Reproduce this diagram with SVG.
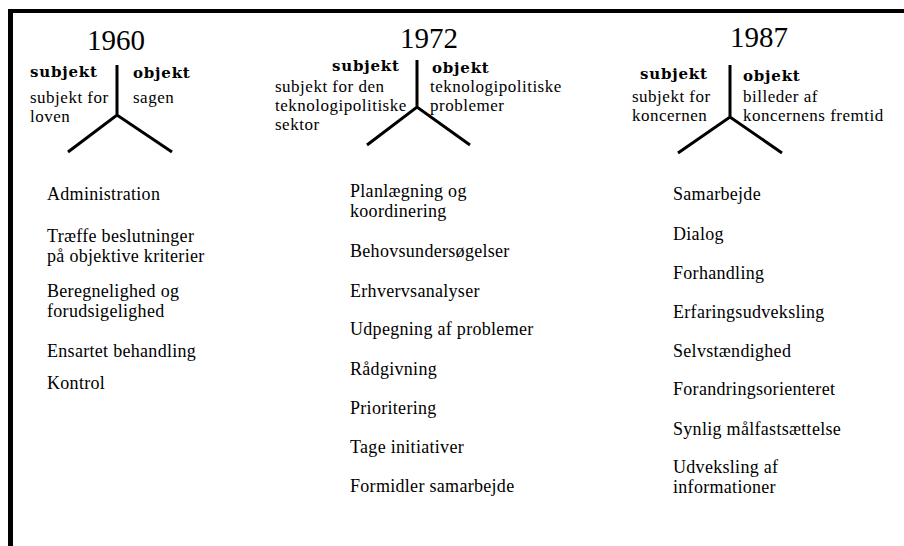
<svg xmlns="http://www.w3.org/2000/svg" width="904" height="546" viewBox="0 0 904 546">
<style>
.yr{font-family:"Liberation Serif","Times New Roman",serif;font-size:29px;fill:#000}
.hd{font-family:"DejaVu Serif",serif;font-weight:bold;font-size:15px;letter-spacing:0.8px;fill:#000}
.lb{font-family:"Liberation Serif","Times New Roman",serif;font-size:17px;letter-spacing:0.5px;fill:#000}
.it{font-family:"Liberation Serif","Times New Roman",serif;font-size:18px;letter-spacing:0.3px;fill:#000}
.y{fill:none;stroke:#000;stroke-width:3;stroke-linecap:butt}
</style>
<rect width="904" height="546" fill="#fff"/>
<g id="frame">
<rect x="8" y="9" width="896" height="4" fill="#000"/>
<rect x="8" y="9" width="5" height="537" fill="#000"/>
</g>
<g id="col1960">
<text class="yr" x="116" y="50" text-anchor="middle">1960</text>
<text class="hd" x="30" y="77">subjekt</text>
<text class="hd" x="133" y="78">objekt</text>
<text class="lb" x="30" y="103">subjekt for</text>
<text class="lb" x="30" y="122">loven</text>
<text class="lb" x="133" y="103">sagen</text>
<path class="y" d="M117,65 V115 M68,152 L117,115 L172,152"/>
<text class="it" x="47" y="200">Administration</text>
<text class="it" x="47" y="242">Træffe beslutninger</text>
<text class="it" x="47" y="262">på objektive kriterier</text>
<text class="it" x="47" y="297">Beregnelighed og</text>
<text class="it" x="47" y="317">forudsigelighed</text>
<text class="it" x="47" y="357">Ensartet behandling</text>
<text class="it" x="47" y="389">Kontrol</text>
</g>
<g id="col1972">
<text class="yr" x="429" y="48" text-anchor="middle">1972</text>
<text class="hd" x="332" y="71">subjekt</text>
<text class="hd" x="432" y="73">objekt</text>
<text class="lb" x="275" y="92">subjekt for den</text>
<text class="lb" x="275" y="111">teknologipolitiske</text>
<text class="lb" x="275" y="130">sektor</text>
<text class="lb" x="430" y="92">teknologipolitiske</text>
<text class="lb" x="430" y="111">problemer</text>
<path class="y" d="M417,60 V107 M367,145 L417,107 L470,145"/>
<text class="it" x="350" y="197">Planlægning og</text>
<text class="it" x="350" y="217">koordinering</text>
<text class="it" x="350" y="257">Behovsundersøgelser</text>
<text class="it" x="350" y="297">Erhvervsanalyser</text>
<text class="it" x="350" y="335">Udpegning af problemer</text>
<text class="it" x="350" y="375">Rådgivning</text>
<text class="it" x="350" y="414">Prioritering</text>
<text class="it" x="350" y="453">Tage initiativer</text>
<text class="it" x="350" y="492">Formidler samarbejde</text>
</g>
<g id="col1987">
<text class="yr" x="759" y="47" text-anchor="middle">1987</text>
<text class="hd" x="640" y="79">subjekt</text>
<text class="hd" x="743" y="81">objekt</text>
<text class="lb" x="632" y="102">subjekt for</text>
<text class="lb" x="632" y="121">koncernen</text>
<text class="lb" x="743" y="102">billeder af</text>
<text class="lb" x="743" y="121">koncernens fremtid</text>
<path class="y" d="M730,65 V117 M678,153 L730,117 L782,153"/>
<text class="it" x="673" y="200">Samarbejde</text>
<text class="it" x="673" y="240">Dialog</text>
<text class="it" x="673" y="279">Forhandling</text>
<text class="it" x="673" y="318">Erfaringsudveksling</text>
<text class="it" x="673" y="357">Selvstændighed</text>
<text class="it" x="673" y="395">Forandringsorienteret</text>
<text class="it" x="673" y="435">Synlig målfastsættelse</text>
<text class="it" x="673" y="473">Udveksling af</text>
<text class="it" x="673" y="493">informationer</text>
</g>
<g id="connectors"></g>
</svg>
